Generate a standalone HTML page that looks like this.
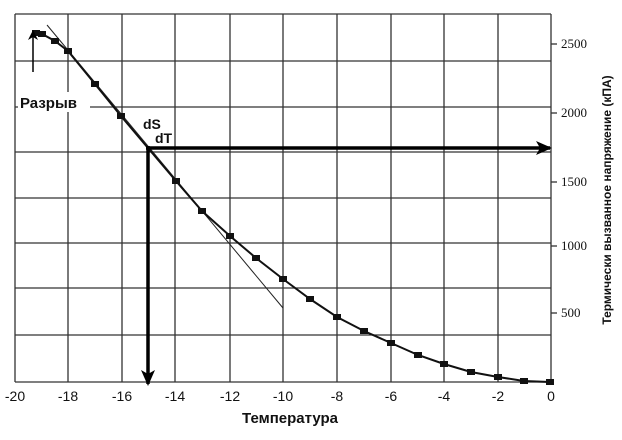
<!DOCTYPE html><html><head><meta charset="utf-8"><style>body{margin:0;background:#fff}svg{display:block}text{font-family:"Liberation Sans",sans-serif;fill:#111}</style></head><body>
<svg width="622" height="440" viewBox="0 0 622 440">
<defs><marker id="a" markerWidth="16" markerHeight="14" refX="14" refY="7" orient="auto" markerUnits="userSpaceOnUse"><path d="M0,0 L16,7 L0,14 L4,7z" fill="#000"/></marker>
<marker id="b" markerWidth="10" markerHeight="10" refX="8" refY="5" orient="auto" markerUnits="userSpaceOnUse"><path d="M0,0 L10,5 L0,10 L3,5z" fill="#000"/></marker></defs>
<g stroke="#333" stroke-width="1.3">
<line x1="15" y1="14" x2="551" y2="14"/><line x1="15" y1="61" x2="551" y2="61"/><line x1="15" y1="107" x2="551" y2="107"/><line x1="15" y1="152" x2="551" y2="152"/><line x1="15" y1="198" x2="551" y2="198"/><line x1="15" y1="243" x2="551" y2="243"/><line x1="15" y1="288" x2="551" y2="288"/><line x1="15" y1="335" x2="551" y2="335"/><line x1="15" y1="382" x2="551" y2="382"/>
<line x1="15" y1="14" x2="15" y2="382"/><line x1="68" y1="14" x2="68" y2="382"/><line x1="122" y1="14" x2="122" y2="382"/><line x1="175" y1="14" x2="175" y2="382"/><line x1="230" y1="14" x2="230" y2="382"/><line x1="283" y1="14" x2="283" y2="382"/><line x1="337" y1="14" x2="337" y2="382"/><line x1="391" y1="14" x2="391" y2="382"/><line x1="444" y1="14" x2="444" y2="382"/><line x1="498" y1="14" x2="498" y2="382"/><line x1="551" y1="14" x2="551" y2="382"/>
<line x1="551" y1="44" x2="557" y2="44"/><line x1="551" y1="113" x2="557" y2="113"/><line x1="551" y1="182" x2="557" y2="182"/><line x1="551" y1="246" x2="557" y2="246"/><line x1="551" y1="313" x2="557" y2="313"/>
</g>
<line x1="47" y1="25" x2="283" y2="308" stroke="#222" stroke-width="1"/>
<polyline fill="none" stroke="#111" stroke-width="2" points="36,33 42,34 55,41 68,51 95,84 121,116 148,148 176,181 202,211 230,236 256,258 283,279 310,299 337,317 364,331 391,343 418,355 444,364 471,372 498,377 524,381 550,382"/>
<g fill="#111">
<rect x="32" y="30" width="8" height="6"/><rect x="38" y="31" width="8" height="6"/><rect x="51" y="38" width="8" height="6"/><rect x="64" y="48" width="8" height="6"/><rect x="91" y="81" width="8" height="6"/><rect x="117" y="113" width="8" height="6"/><rect x="172" y="178" width="8" height="6"/><rect x="198" y="208" width="8" height="6"/><rect x="226" y="233" width="8" height="6"/><rect x="252" y="255" width="8" height="6"/><rect x="279" y="276" width="8" height="6"/><rect x="306" y="296" width="8" height="6"/><rect x="333" y="314" width="8" height="6"/><rect x="360" y="328" width="8" height="6"/><rect x="387" y="340" width="8" height="6"/><rect x="414" y="352" width="8" height="6"/><rect x="440" y="361" width="8" height="6"/><rect x="467" y="369" width="8" height="6"/><rect x="494" y="374" width="8" height="6"/><rect x="520" y="378" width="8" height="6"/><rect x="546" y="379" width="8" height="6"/>
</g>
<line x1="146" y1="148" x2="550" y2="148" stroke="#000" stroke-width="3.5" marker-end="url(#a)"/>
<line x1="148" y1="146" x2="148" y2="384" stroke="#000" stroke-width="3.5" marker-end="url(#a)"/>
<line x1="33" y1="72" x2="33" y2="32" stroke="#000" stroke-width="1.5" marker-end="url(#b)"/>
<rect x="18" y="92" width="72" height="20" fill="#fff"/>
<text x="20" y="108" font-size="15" font-weight="bold">Разрыв</text>
<text x="143" y="129" font-size="14" font-weight="bold">dS</text>
<text x="155" y="143" font-size="14" font-weight="bold">dT</text>
<g font-size="14" text-anchor="middle">
<text x="15" y="401">-20</text><text x="68" y="401">-18</text><text x="122" y="401">-16</text><text x="175" y="401">-14</text><text x="230" y="401">-12</text><text x="283" y="401">-10</text><text x="337" y="401">-8</text><text x="391" y="401">-6</text><text x="444" y="401">-4</text><text x="498" y="401">-2</text><text x="551" y="401">0</text>
</g>
<g font-size="13" style="font-family:'Liberation Serif',serif">
<text x="561" y="48" style="font-family:'Liberation Serif',serif">2500</text><text x="561" y="117" style="font-family:'Liberation Serif',serif">2000</text><text x="561" y="186" style="font-family:'Liberation Serif',serif">1500</text><text x="561" y="250" style="font-family:'Liberation Serif',serif">1000</text><text x="561" y="317" style="font-family:'Liberation Serif',serif">500</text>
</g>
<text x="290" y="423" font-size="15" font-weight="bold" text-anchor="middle">Температура</text>
<text transform="translate(611,200) rotate(-90)" font-size="12" font-weight="bold" text-anchor="middle">Термически вызванное напряжение (кПА)</text>
</svg></body></html>
